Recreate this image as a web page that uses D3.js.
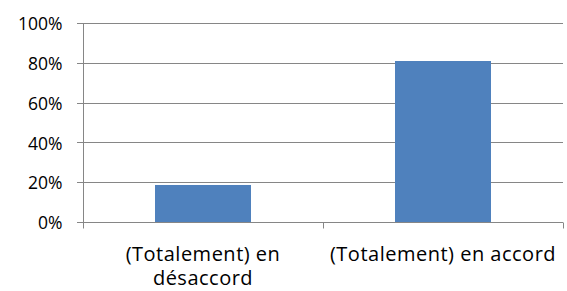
<!DOCTYPE html>
<html><head><meta charset="utf-8">
<script src="https://cdn.jsdelivr.net/npm/d3@7"></script>
<style>body{margin:0;background:#fff}svg text{font-family:"Open Sans",sans-serif;fill:#000}</style>
</head><body><svg id="c" width="567" height="291"></svg>
<script>
const categories = ["(Totalement) en désaccord", "(Totalement) en accord"];
const values = [0.186, 0.809];
const yTicks = [0, 0.2, 0.4, 0.6, 0.8, 1.0];

const svg = d3.select("#c");
const m = {left: 83, right: 4, top: 23, bottom: 69};
const W = 567, H = 291;
const x = d3.scaleBand().domain(categories).range([m.left, W - m.right]).padding(0);
const y = d3.scaleLinear().domain([0, 1]).range([H - m.bottom, m.top]);

svg.append("g").selectAll("line").data(yTicks).join("line")
  .attr("x1", m.left - 6).attr("x2", W - m.right)
  .attr("y1", d => Math.round(y(d)) + 0.5).attr("y2", d => Math.round(y(d)) + 0.5)
  .attr("stroke", "#868686").attr("stroke-width", 1);

const bw = x.bandwidth() * 0.4;
svg.append("g").selectAll("rect").data(values).join("rect")
  .attr("x", (d, i) => x(categories[i]) + (x.bandwidth() - bw) / 2)
  .attr("width", bw)
  .attr("y", d => y(d)).attr("height", d => y(0) - y(d))
  .attr("fill", "#4f81bd");

const yAxis = svg.append("g").attr("transform", `translate(${m.left + 0.5},0)`)
  .call(d3.axisLeft(y).tickValues(yTicks).tickFormat(d3.format(".0%")).tickSize(6).tickPadding(14));
yAxis.select(".domain").attr("stroke", "#868686").attr("d", `M0,${y(1)}V${y(0)+0.5}`);
yAxis.selectAll(".tick line").remove();
yAxis.selectAll("text").style("font-size", "17.5px").attr("x", -21).attr("dy", "0.38em");

const xAxis = svg.append("g").attr("transform", `translate(0,${Math.round(y(0)) + 0.5})`)
  .call(d3.axisBottom(x).tickSize(0).tickPadding(0));
xAxis.select(".domain").remove();
xAxis.selectAll(".tick line").remove();
const edges = [m.left, ...categories.map(c => x(c) + x.bandwidth())];
xAxis.append("g").selectAll("line").data(edges).join("line")
  .attr("x1", d => Math.round(d) + 0.5).attr("x2", d => Math.round(d) + 0.5)
  .attr("y1", 0).attr("y2", 6).attr("stroke", "#868686");
xAxis.append("line").attr("x1", m.left).attr("x2", W - m.right).attr("stroke", "#868686");

xAxis.selectAll(".tick text").style("font-size", "20px").style("letter-spacing", "0.5px")
  .attr("y", 0).attr("dy", 0)
  .each(function(d) {
    const t = d3.select(this);
    const words = d.split(" ");
    t.text(null);
    let lines = [], line = [];
    const maxW = 235;
    const probe = t.append("tspan");
    for (const w of words) {
      line.push(w);
      probe.text(line.join(" "));
      if (probe.node().getComputedTextLength() > maxW && line.length > 1) {
        line.pop(); lines.push(line.join(" ")); line = [w];
      }
    }
    lines.push(line.join(" "));
    probe.remove();
    lines.forEach((l, i) => t.append("tspan").attr("x", 0).attr("y", 38 + i * 24.5).text(l));
  });
</script></body></html>
